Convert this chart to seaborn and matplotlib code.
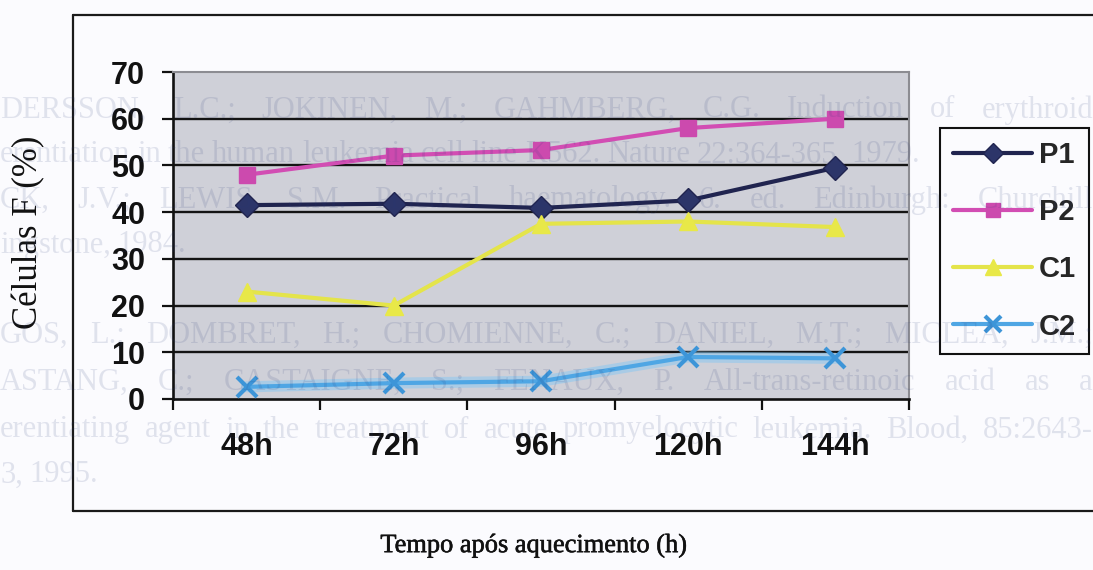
import matplotlib
matplotlib.use("Agg")
import matplotlib.pyplot as plt
from matplotlib.lines import Line2D
import matplotlib.patheffects as pe
import seaborn as sns

# Series: percentage of F cells over time after heating
horas = ["48h", "72h", "96h", "120h", "144h"]
p1 = [41.5, 41.8, 40.9, 42.5, 49.5]
p2 = [48.0, 52.1, 53.3, 58.0, 60.0]
c1 = [23.0, 20.0, 37.5, 38.0, 36.8]
c2 = [2.6, 3.4, 3.8, 9.0, 8.7]
yticks = [0, 10, 20, 30, 40, 50, 60, 70]

# Faint reverse-side print of the scanned page
verso = [
    ("DERSSON, L.C.; JOKINEN, M.; GAHMBERG, C.G. Induction of erythroid", 110, True),
    ("erentiation in the human leukemia cell line K562. Nature 22:364-365, 1979.", 155, False),
    ("CK, J.V.; LEWIS, S.M. Practical haematology. 6. ed. Edinburgh: Churchill", 200, True),
    ("ingstone, 1984.", 245, False),
    ("GOS, L.; DOMBRET, H.; CHOMIENNE, C.; DANIEL, M.T.; MICLEA, J.M.;", 335, True),
    ("ASTANG, C.; CASTAIGNE, S.; FENAUX, P. All-trans-retinoic acid as a", 382, True),
    ("erentiating agent in the treatment of acute promyelocytic leukemia. Blood, 85:2643-", 430, True),
    ("3, 1995.", 475, False),
]

W, H = 1093, 570
sns.set_theme(style="white")
plt.rcParams["font.family"] = ["Liberation Sans", "DejaVu Sans"]

fig = plt.figure(figsize=(W / 100, H / 100), dpi=100, facecolor="#fbfbfe")


def fx(px):
    return px / W


def fy(py):
    return 1 - py / H


ink = "#111111"

# plot area in pixel box
L, T, R, B = 173, 72, 909, 399
ax = fig.add_axes([fx(L), fy(B), (R - L) / W, (B - T) / H])
ax.set_facecolor("#cfd0d8")

styles = {
    "P1": dict(color="#20244f", marker="D", markersize=12, mfc="#2c3569", mec="#20244f"),
    "P2": dict(color="#d24db3", marker="s", markersize=12, mfc="#cc4aae", mec="#cc4aae"),
    "C1": dict(color="#e4e44a", marker="^", markersize=13, mfc="#e8e848", mec="#e8e848"),
    "C2": dict(color="#4fa6e4", marker="x", markersize=14, mfc="#3d95d8", mec="#3d95d8"),
}
values = {"P1": p1, "P2": p2, "C1": c1, "C2": c2}

# soft halo under the C2 line
sns.lineplot(x=horas, y=c2, ax=ax, color="#8cc8f0", lw=8, alpha=0.55,
             legend=False, zorder=3, sort=False)

for name in ["P1", "P2", "C1", "C2"]:
    st = styles[name]
    sns.lineplot(x=horas, y=values[name], ax=ax, color=st["color"], lw=3.0,
                 marker=st["marker"], markersize=st["markersize"],
                 markerfacecolor=st["mfc"], markeredgecolor=st["mec"],
                 markeredgewidth=3.0 if name == "C2" else 1.0,
                 label=name, zorder=4, sort=False)

ax.set_xlim(-0.5, len(horas) - 0.5)
ax.set_ylim(0, 70)
ax.set_yticks(yticks)
ax.set_yticklabels([str(v) for v in yticks], fontsize=22, fontweight="bold")
ax.set_xticks(range(len(horas)))
ax.set_xticklabels(horas, fontsize=22, fontweight="bold")
ax.set_xticks([i - 0.5 for i in range(len(horas) + 1)], minor=True)
ax.tick_params(axis="x", which="major", length=0, pad=24, colors=ink)
ax.tick_params(axis="x", which="minor", length=8, width=1.6, direction="out",
               color=ink, bottom=True)
ax.tick_params(axis="y", length=8, width=1.6, direction="out", pad=12,
               colors=ink, left=True)

for v in yticks[1:-1]:
    ax.axhline(v, color="#141414", lw=1.7, zorder=1)

for s in ["left", "bottom"]:
    ax.spines[s].set_color(ink)
    ax.spines[s].set_linewidth(1.9)
for s in ["top", "right"]:
    ax.spines[s].set_color("#8c8c92")
    ax.spines[s].set_linewidth(1.5)

ax.set_ylabel("Células F (%)", fontfamily="Liberation Serif", fontsize=25,
              color=ink)
ax.yaxis.set_label_coords((29 - L) / (R - L), 1 - (232 - T) / (B - T))
ax.yaxis.label.set_va("center")
ax.set_xlabel("Tempo após aquecimento (h)", fontfamily="Liberation Serif",
              fontsize=19, color=ink,
              path_effects=[pe.withStroke(linewidth=0.4, foreground=ink)])
ax.xaxis.set_label_coords((534 - L) / (R - L), -(546 - B) / (B - T))
ax.xaxis.label.set_va("center")

handles, labels = ax.get_legend_handles_labels()
if ax.get_legend() is not None:
    ax.get_legend().remove()
leg = fig.legend(handles, labels, loc="upper left",
                 bbox_to_anchor=(fx(940), fy(128)),
                 prop=dict(size=21, weight="bold"),
                 frameon=True, fancybox=False, edgecolor=ink,
                 facecolor="#fbfbfe", framealpha=1, handlelength=2.7,
                 handletextpad=0.25, labelspacing=1.0, borderpad=0.45,
                 borderaxespad=0, markerscale=0.85)
leg.get_frame().set_linewidth(1.5)

# outer frame of the figure block
frame_kw = dict(color="#1a1a1a", lw=1.6, transform=fig.transFigure)
fig.add_artist(Line2D([fx(73), 1], [fy(15), fy(15)], **frame_kw))
fig.add_artist(Line2D([fx(73), fx(73)], [fy(15), fy(511)], **frame_kw))
fig.add_artist(Line2D([fx(73), 1], [fy(511), fy(511)], **frame_kw))

# reverse-side text, justified across the page width
renderer = fig.canvas.get_renderer()
for line, ypx, justify in verso:
    words = line.split(" ")
    texts = [fig.text(0, fy(ypx), w, family="Liberation Serif", fontsize=22,
                      color="#2a3a7a", alpha=0.13, va="center", zorder=10)
             for w in words]
    widths = [t.get_window_extent(renderer).width for t in texts]
    if justify and len(words) > 1:
        gap = (W - sum(widths)) / (len(words) - 1)
    else:
        gap = 7
    x = 0
    for t, w in zip(texts, widths):
        t.set_x(fx(x))
        x += w + gap

fig.savefig("out.png", dpi=100, facecolor=fig.get_facecolor())
